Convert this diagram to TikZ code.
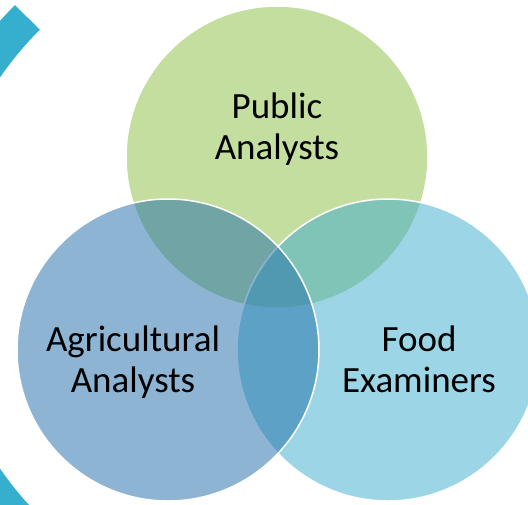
\documentclass[tikz,border=0pt]{standalone}
\usepackage{fontspec}
\setmainfont{Carlito}
\definecolor{pubgreen}{RGB}{142,192,74}
\definecolor{agriblue}{RGB}{40,115,172}
\definecolor{foodblue}{RGB}{68,175,206}
\definecolor{ringblue}{RGB}{54,175,207}
\begin{document}
\begin{tikzpicture}[
    x=1pt,y=-1pt,
    set/.style={circle, draw=white, line width=1.5pt, fill opacity=0.53,
      minimum size=302pt, inner sep=0pt},
    ring/.style={line width=35pt, ringblue},
    lbl/.style={align=center, anchor=north, font=\fontsize{37}{41}\selectfont, text=black}
    ]
    \useasboundingbox (0,0) rectangle (528,504);
    \begin{scope}
      \clip (0,0) rectangle (528,504);
      \coordinate (hub) at (283,273);
      \draw[ring] (hub) ++(225:361.5) arc[start angle=225, end angle=128, radius=361.5];
      \node[set, fill=pubgreen] (public) at (277,157) {};
      \node[set, fill=foodblue] (food) at (388,350) {};
      \node[set, fill=agriblue] (agri) at (168,350) {};
    \end{scope}
    \node[lbl] (publicname) at (277,89) {Public\\Analysts};
    \node[lbl] (agriname) at (133,322) {Agricultural\\Analysts};
    \node[lbl] (foodname) at (419,322) {Food\\Examiners};
  \end{tikzpicture}
\end{document}
